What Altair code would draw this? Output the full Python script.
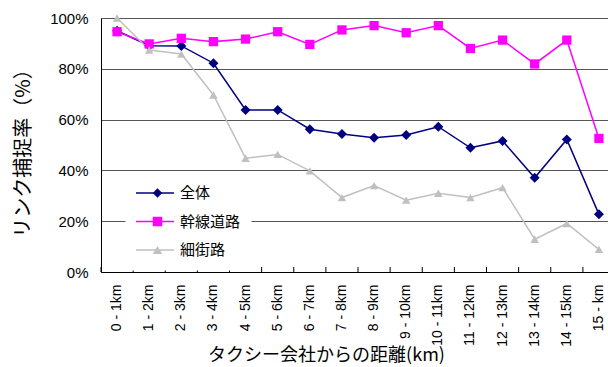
import altair as alt
import pandas as pd

categories = ["0 - 1km", "1 - 2km", "2 - 3km", "3 - 4km", "4 - 5km", "5 - 6km", "6 - 7km",
              "7 - 8km", "8 - 9km", "9 - 10km", "10 - 11km", "11 - 12km", "12 - 13km",
              "13 - 14km", "14 - 15km", "15 - km"]
series = ["全体", "幹線道路", "細街路"]
zentai = [95, 89.1, 89, 82.2, 63.8, 63.8, 56.2, 54.3, 52.9, 53.9, 57.2, 48.9, 51.6, 37.1, 52.2, 22.7]
kansen = [94.6, 89.8, 92, 90.7, 91.7, 94.6, 89.6, 95.3, 97, 94.2, 97, 88, 91.3, 81.9, 91.3, 52.6]
saigai = [100, 87.4, 85.8, 69.7, 44.8, 46.3, 39.8, 29.3, 34, 28.3, 31, 29.3, 33.2, 12.9, 19.1, 8.9]
y_ticks = [0, 20, 40, 60, 80, 100]

colors = ["#000080", "#FF00FF", "#C0C0C0"]
shapes = ["diamond", "square", "triangle-up"]
sizes = [100, 72, 144]

rows = []
for name, vals in zip(series, [zentai, kansen, saigai]):
    for c, v in zip(categories, vals):
        rows.append({"区間": c, "系列": name, "値": v})
df = pd.DataFrame(rows)
cat_df = pd.DataFrame({"区間": categories})

FONT = "Liberation Sans"
JP = "Noto Sans CJK JP"

x_enc = alt.X(
    "区間:N", sort=categories,
    scale=alt.Scale(range=[0, 514], paddingInner=0, paddingOuter=0),
    axis=alt.Axis(
        title="タクシー会社からの距離(km)", labelAngle=270, labelFontSize=14, labelFont=FONT,
        labelColor="black", labelPadding=12, ticks=False, domainColor="black", domainWidth=1,
        grid=False, titleFont=JP, titleFontSize=18, titleFontWeight="normal", titleColor="black",
        titleX=225, titleY=88, titleBaseline="alphabetic", titleAnchor="middle", titleAlign="center",
    ),
)
y_enc = alt.Y(
    "値:Q",
    scale=alt.Scale(domain=[0, 100], nice=False),
    axis=alt.Axis(
        title="リンク捕捉率（%）", values=y_ticks, labelExpr="datum.value + '%'",
        labelFontSize=15, labelFont=FONT, labelColor="black", labelPadding=13, ticks=False,
        domainColor="black", domainWidth=1, grid=True, gridColor="#555555", gridWidth=1,
        titleFont=JP, titleFontSize=20, titleFontWeight="normal", titleColor="black",
        titleX=-78, titleY=130, titleAngle=270, titleAlign="center", titleBaseline="middle",
    ),
)

color_scale = alt.Scale(domain=series, range=colors)

lines = alt.Chart(df).mark_line(strokeWidth=1.5).encode(
    x=x_enc, y=y_enc,
    color=alt.Color("系列:N", scale=color_scale, sort=series, legend=alt.Legend(
        title=None, orient="none", legendX=24, legendY=155, symbolType="stroke",
        symbolSize=1444, symbolStrokeWidth=1.5, clipHeight=20, rowPadding=8.5,
        labelFont=JP, labelFontSize=15, labelColor="black", labelOffset=5,
        padding=10, fillColor="white", strokeColor="transparent",
    )),
)

points = alt.Chart(df).mark_point(filled=True, opacity=1).encode(
    x=x_enc, y=y_enc,
    color=alt.Color("系列:N", scale=color_scale, sort=series, legend=alt.Legend(
        title=None, orient="none", legendX=24, legendY=155, symbolSize=90, symbolOffset=15,
        clipHeight=20, rowPadding=8.5, labelFont=JP, labelFontSize=15, labelExpr="''",
        labelOffset=5, padding=10, symbolStrokeWidth=0, symbolOpacity=1,
    )),
    shape=alt.Shape("系列:N", scale=alt.Scale(domain=series, range=shapes), sort=series, legend=None),
    size=alt.Size("系列:N", scale=alt.Scale(domain=series, range=sizes), legend=None),
)

ticks = alt.Chart(cat_df).mark_rule(color="black", strokeWidth=1).encode(
    x=alt.X("区間:N", sort=categories, bandPosition=0),
    y=alt.value(254), y2=alt.value(249),
)

chart = alt.layer(lines, points, ticks).resolve_legend(color="independent", shape="independent").properties(
    width=507, height=254,
    autosize=alt.AutoSizeParams(type="none"),
    padding={"left": 101, "top": 18, "right": 0, "bottom": 95},
).configure_view(stroke=None).configure(background="white")

chart.save("out.html", embed_options={"renderer": "svg", "actions": False})
